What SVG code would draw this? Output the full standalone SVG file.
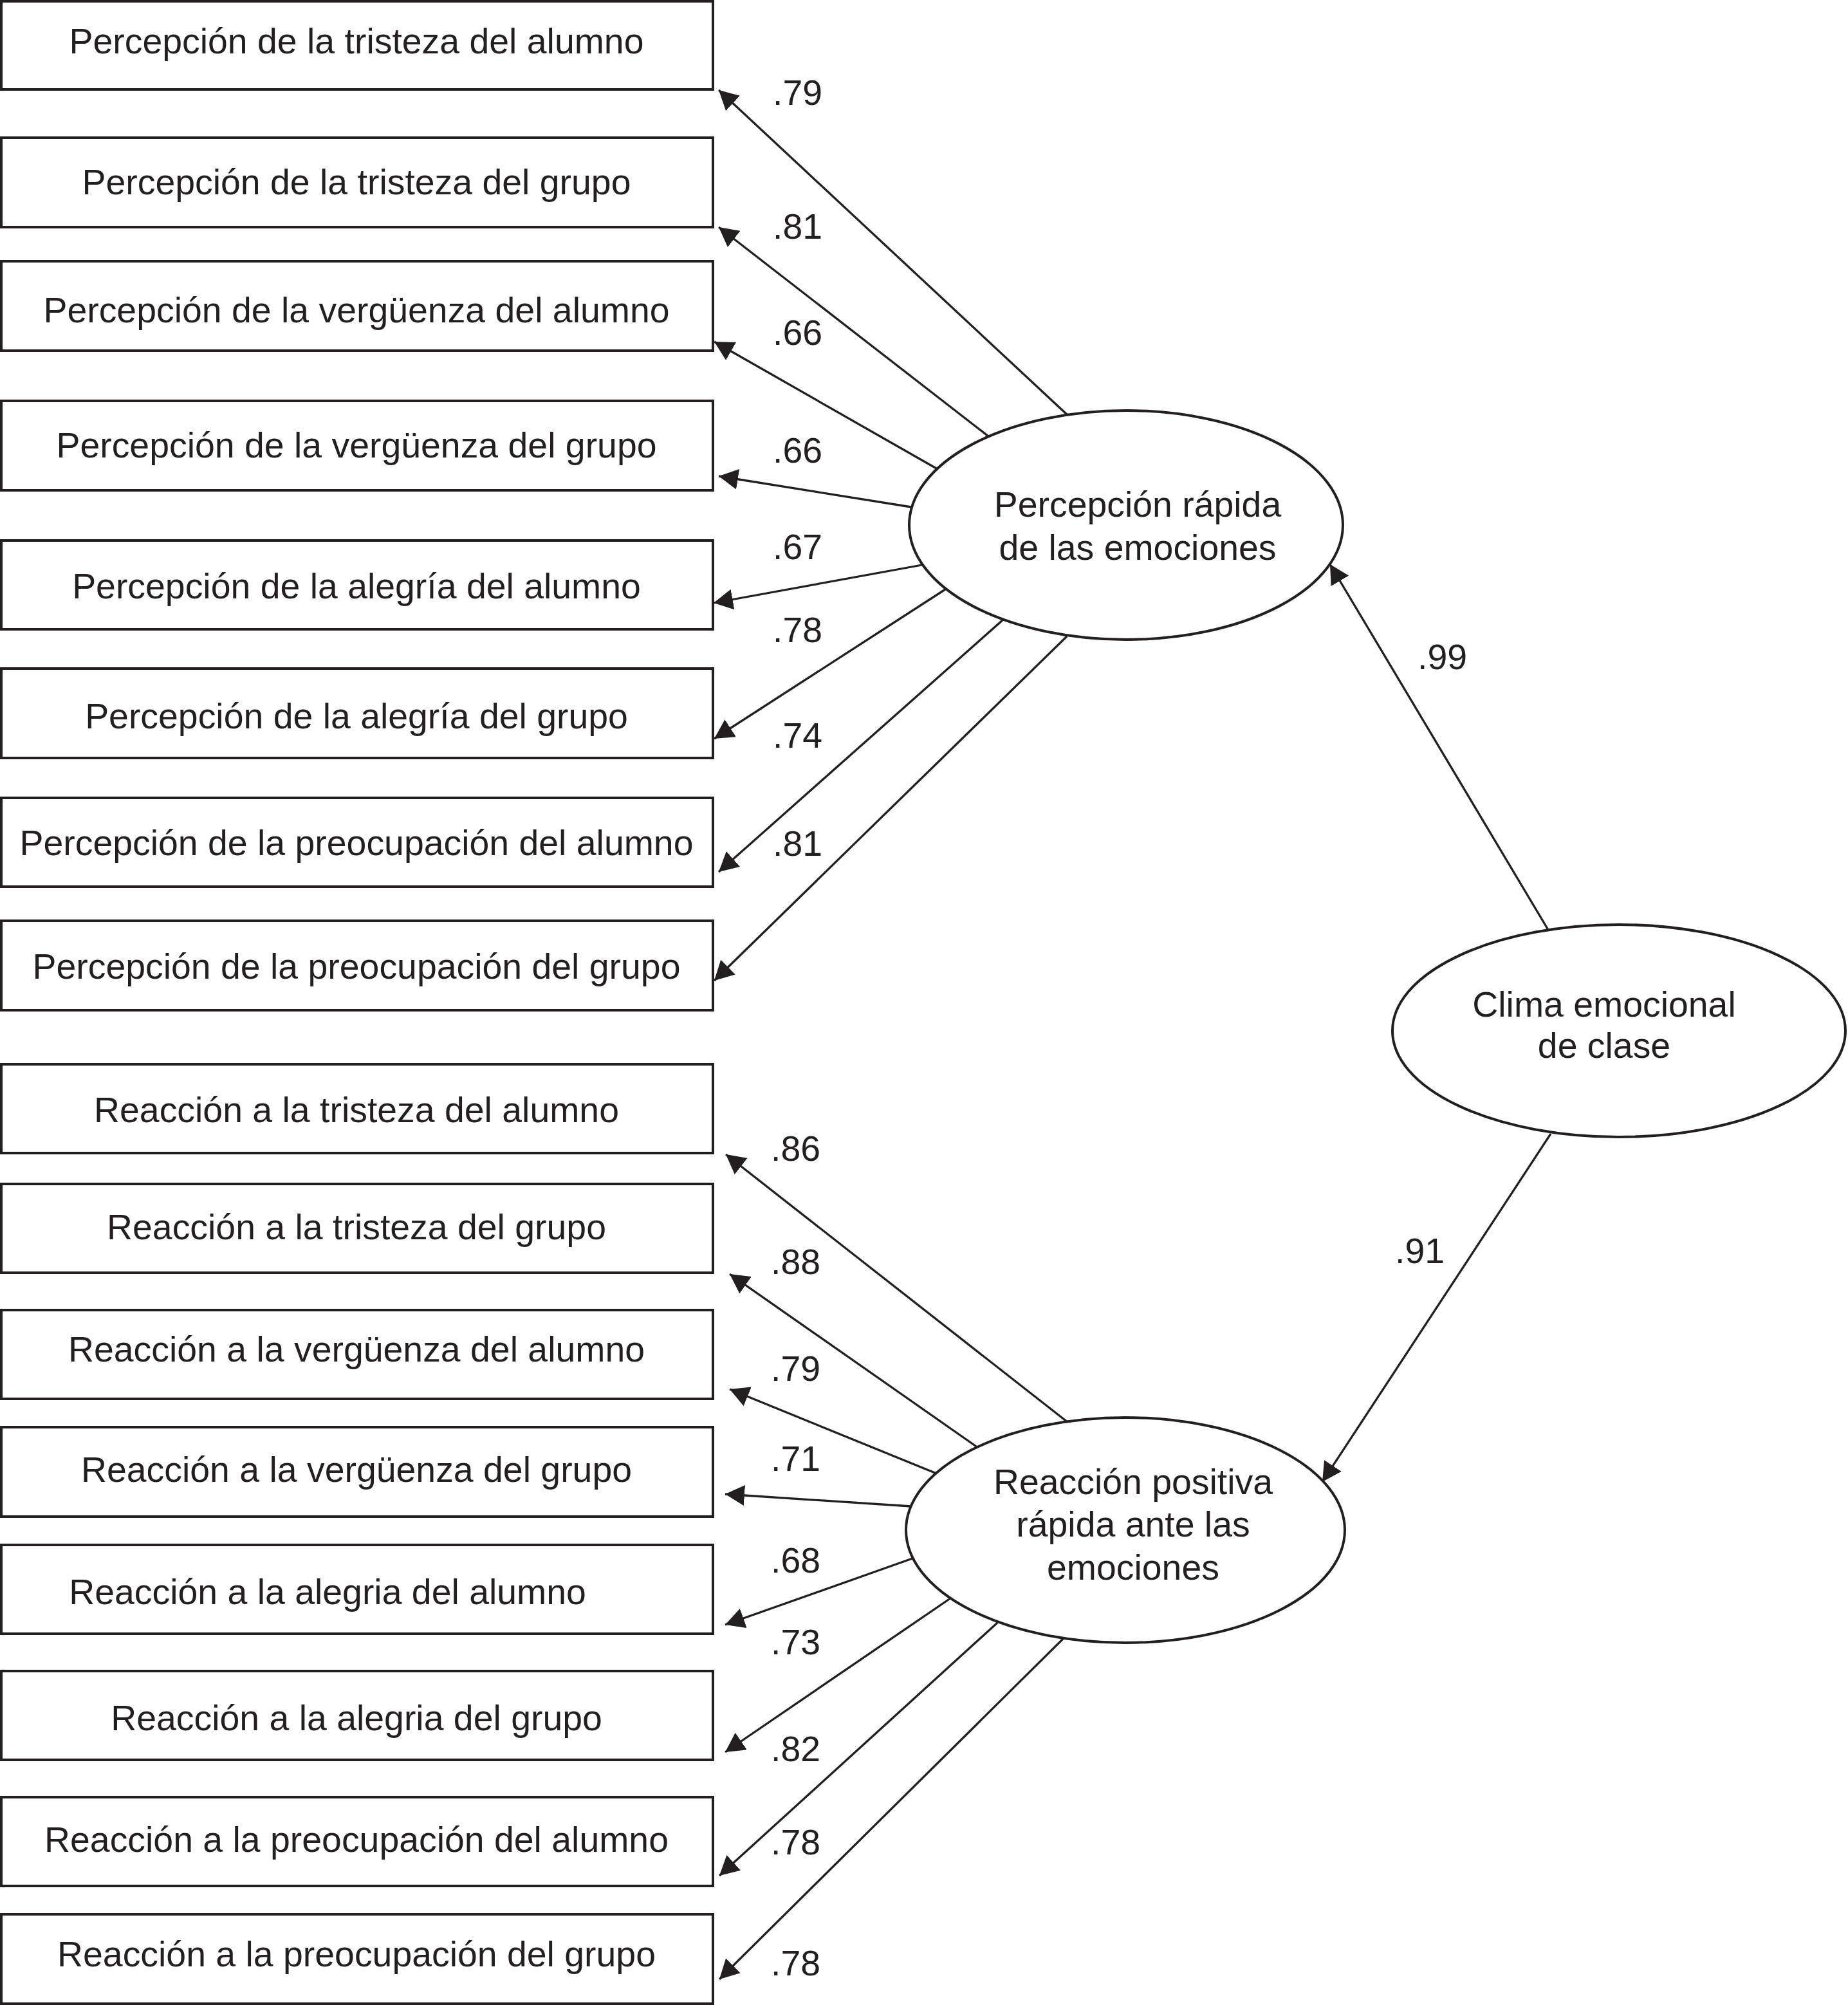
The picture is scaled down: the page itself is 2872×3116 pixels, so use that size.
<svg xmlns="http://www.w3.org/2000/svg" width="2872" height="3116" viewBox="0 0 2872 3116">
<style>
.box{fill:#ffffff;stroke:#231f20;stroke-width:4}
.ell{fill:#ffffff;stroke:#231f20;stroke-width:4}
.t{font-family:"Liberation Sans",Arial,Helvetica,sans-serif;font-size:55.4px;fill:#231f20;text-anchor:middle}
.lbl{font-family:"Liberation Sans",Arial,Helvetica,sans-serif;font-size:55.4px;fill:#231f20}
.c{stroke:#231f20;stroke-width:3.3;fill:none;marker-end:url(#ah)}
</style>
<defs>
<marker id="ah" viewBox="0 0 30 32" refX="30" refY="16" markerWidth="30" markerHeight="32" markerUnits="userSpaceOnUse" orient="auto">
<path d="M0,0 L30,16 L0,32 z" fill="#231f20"/>
</marker>
</defs>
<rect width="2872" height="3116" fill="#ffffff"/>
<g id="connectors">
<line class="c" x1="1658" y1="644" x2="1117" y2="140"/>
<line class="c" x1="1536" y1="678" x2="1117" y2="353"/>
<line class="c" x1="1457" y1="729" x2="1110" y2="531"/>
<line class="c" x1="1416" y1="788" x2="1117" y2="740"/>
<line class="c" x1="1433" y1="878" x2="1109" y2="937"/>
<line class="c" x1="1469" y1="916" x2="1110" y2="1148"/>
<line class="c" x1="1559" y1="963" x2="1117" y2="1355"/>
<line class="c" x1="1658" y1="989" x2="1110" y2="1524"/>
<line class="c" x1="1659" y1="2210" x2="1128" y2="1794"/>
<line class="c" x1="1523" y1="2252" x2="1134" y2="1980"/>
<line class="c" x1="1458" y1="2291" x2="1134" y2="2159"/>
<line class="c" x1="1416" y1="2341" x2="1127" y2="2322"/>
<line class="c" x1="1418" y1="2422" x2="1127" y2="2525"/>
<line class="c" x1="1477" y1="2484" x2="1127" y2="2723"/>
<line class="c" x1="1550" y1="2522" x2="1118" y2="2915"/>
<line class="c" x1="1652" y1="2547" x2="1118" y2="3076"/>
<line class="c" x1="2406" y1="1445" x2="2067" y2="877"/>
<line class="c" x1="2410" y1="1762" x2="2055" y2="2303"/>
</g>
<g id="loadings">
<text class="lbl" x="1201" y="163">.79</text>
<text class="lbl" x="1201" y="371">.81</text>
<text class="lbl" x="1201" y="536">.66</text>
<text class="lbl" x="1201" y="719">.66</text>
<text class="lbl" x="1201" y="869">.67</text>
<text class="lbl" x="1201" y="998">.78</text>
<text class="lbl" x="1201" y="1162">.74</text>
<text class="lbl" x="1201" y="1330">.81</text>
<text class="lbl" x="1198" y="1804">.86</text>
<text class="lbl" x="1198" y="1980">.88</text>
<text class="lbl" x="1198" y="2146">.79</text>
<text class="lbl" x="1198" y="2286">.71</text>
<text class="lbl" x="1198" y="2444">.68</text>
<text class="lbl" x="1198" y="2571">.73</text>
<text class="lbl" x="1198" y="2737">.82</text>
<text class="lbl" x="1198" y="2882">.78</text>
<text class="lbl" x="1198" y="3070">.78</text>
<text class="lbl" x="2203" y="1040">.99</text>
<text class="lbl" x="2168" y="1963">.91</text>
</g>
<g id="p1"><rect class="box" x="2" y="2" width="1106" height="137"/><text class="t" x="554" y="83">Percepción de la tristeza del alumno</text></g>
<g id="p2"><rect class="box" x="2" y="214" width="1106" height="139"/><text class="t" x="554" y="302">Percepción de la tristeza del grupo</text></g>
<g id="p3"><rect class="box" x="2" y="406" width="1106" height="139"/><text class="t" x="554" y="501">Percepción de la vergüenza del alumno</text></g>
<g id="p4"><rect class="box" x="2" y="623" width="1106" height="139"/><text class="t" x="554" y="711">Percepción de la vergüenza del grupo</text></g>
<g id="p5"><rect class="box" x="2" y="840" width="1106" height="138"/><text class="t" x="554" y="930">Percepción de la alegría del alumno</text></g>
<g id="p6"><rect class="box" x="2" y="1039" width="1106" height="139"/><text class="t" x="554" y="1132">Percepción de la alegría del grupo</text></g>
<g id="p7"><rect class="box" x="2" y="1240" width="1106" height="138"/><text class="t" x="554" y="1329">Percepción de la preocupación del alumno</text></g>
<g id="p8"><rect class="box" x="2" y="1431" width="1106" height="139"/><text class="t" x="554" y="1521">Percepción de la preocupación del grupo</text></g>
<g id="r1"><rect class="box" x="2" y="1654" width="1106" height="138"/><text class="t" x="554" y="1744">Reacción a la tristeza del alumno</text></g>
<g id="r2"><rect class="box" x="2" y="1840" width="1106" height="138"/><text class="t" x="554" y="1926">Reacción a la tristeza del grupo</text></g>
<g id="r3"><rect class="box" x="2" y="2036" width="1106" height="138"/><text class="t" x="554" y="2116">Reacción a la vergüenza del alumno</text></g>
<g id="r4"><rect class="box" x="2" y="2218" width="1106" height="139"/><text class="t" x="554" y="2303">Reacción a la vergüenza del grupo</text></g>
<g id="r5"><rect class="box" x="2" y="2401" width="1106" height="138"/><text class="t" x="509" y="2493">Reacción a la alegria del alumno</text></g>
<g id="r6"><rect class="box" x="2" y="2597" width="1106" height="138"/><text class="t" x="554" y="2689">Reacción a la alegria del grupo</text></g>
<g id="r7"><rect class="box" x="2" y="2793" width="1106" height="138"/><text class="t" x="554" y="2878">Reacción a la preocupación del alumno</text></g>
<g id="r8"><rect class="box" x="2" y="2975" width="1106" height="139"/><text class="t" x="554" y="3056">Reacción a la preocupación del grupo</text></g>
<g id="f1"><ellipse class="ell" cx="1750" cy="816" rx="337" ry="178"/><text class="t" x="1768" y="803">Percepción rápida</text><text class="t" x="1768" y="870">de las emociones</text></g>
<g id="f2"><ellipse class="ell" cx="1749" cy="2378" rx="341" ry="175"/><text class="t" x="1761" y="2322">Reacción positiva</text><text class="t" x="1761" y="2388">rápida ante las</text><text class="t" x="1761" y="2455">emociones</text></g>
<g id="g1"><ellipse class="ell" cx="2516" cy="1602" rx="352" ry="165"/><text class="t" x="2493" y="1580">Clima emocional</text><text class="t" x="2493" y="1644">de clase</text></g>
</svg>
